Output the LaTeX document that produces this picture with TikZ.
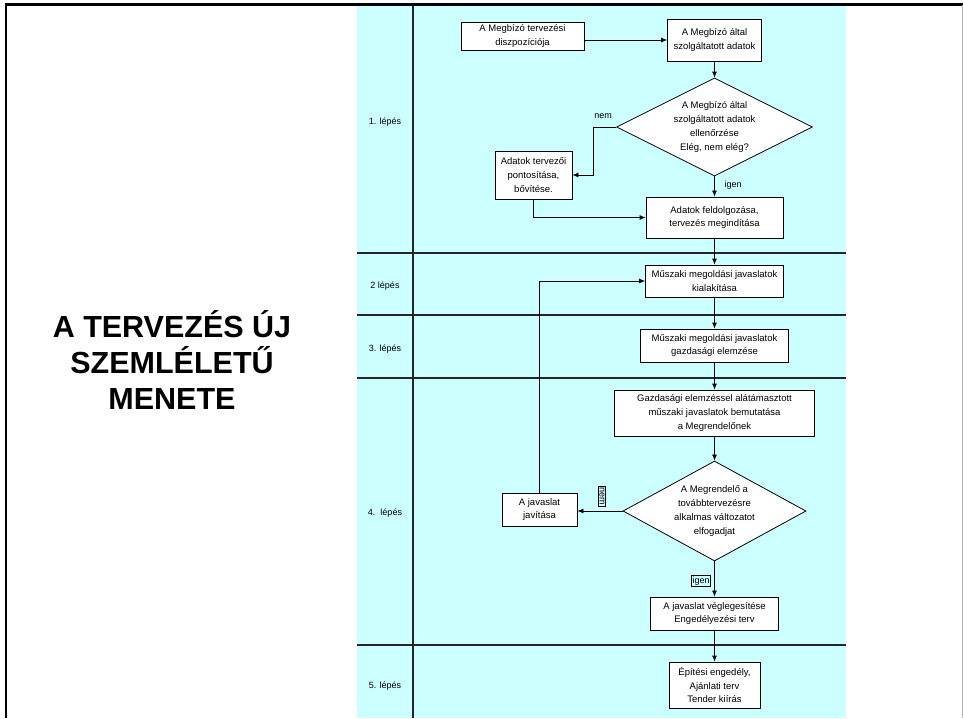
\documentclass[tikz,border=0pt]{standalone}
\usepackage{fontspec}
\setmainfont{Liberation Sans}
\usetikzlibrary{shapes.geometric,arrows.meta}
\definecolor{panelcyan}{HTML}{CCFFFF}
\tikzset{
	box/.style={draw, fill=white, line width=0.8pt, inner sep=0pt, align=center, font=\fontsize{9.5}{13.7}\selectfont},
	decision/.style={diamond, draw, fill=white, line width=0.8pt, inner sep=0pt, aspect=2, align=center, font=\fontsize{9.5}{13.7}\selectfont},
	lane/.style={font=\fontsize{9}{11}\selectfont},
	tag/.style={draw, fill=panelcyan, line width=0.6pt, inner sep=1.2pt, font=\fontsize{9}{11}\selectfont},
	flow/.style={->, line width=0.8pt}
}
\begin{document}
\begin{tikzpicture}[x=1pt, y=-1pt, >={Latex[length=6pt,width=5pt]}]
	\useasboundingbox (0,0) rectangle (963,718);
	% panel and frame
	\fill[panelcyan] (357,6) rectangle (846,718);
	\draw[line width=2.5pt] (6,718) -- (6,4.5) -- (963,4.5);
	\draw[black!30, line width=1pt] (962,5) -- (962,718);
	\draw[black!85, line width=1.2pt] (413,6) -- (413,718);
	\draw[black!85, line width=1.2pt] (357,253) -- (846,253);
	\draw[black!85, line width=1.2pt] (357,315) -- (846,315);
	\draw[black!85, line width=1.2pt] (357,378) -- (846,378);
	\draw[black!85, line width=1.2pt] (357,645) -- (846,645);
	% title
	\node[font=\bfseries\fontsize{30.5}{36}\selectfont, align=center] (title) at (172,360) {A TERVEZÉS ÚJ\\SZEMLÉLETŰ\\MENETE};
	% lanes
	\node[lane] (lep1) at (385,122) {1. lépés};
	\node[lane] (lep2) at (385,286) {2 lépés};
	\node[lane] (lep3) at (385,349) {3. lépés};
	\node[lane] (lep4) at (385,513) {4.\ \ lépés};
	\node[lane] (lep5) at (385,686) {5. lépés};
	% step 1
	\node[box, minimum width=123, minimum height=28] (disp) at (522.5,36) {A Megbízó tervezési\\diszpozíciója};
	\node[box, minimum width=94, minimum height=42] (adat) at (714.5,40) {A Megbízó által\\szolgáltatott adatok};
	\node[decision, minimum width=196, minimum height=98] (ell) at (714.5,127) {A Megbízó által\\szolgáltatott adatok\\ellenőrzése\\Elég, nem elég?};
	\node[box, minimum width=77, minimum height=48] (pont) at (533.5,175) {Adatok tervezői\\pontosítása,\\bővítése.};
	\node[box, minimum width=137, minimum height=41] (feld) at (714.5,217.5) {Adatok feldolgozása,\\tervezés megindítása};
	\node[lane] (nem1) at (603,116) {nem};
	\node[lane] (igen1) at (733,185) {igen};
	% steps 2-3
	\node[box, minimum width=138, minimum height=32] (kial) at (714.5,281) {Műszaki megoldási javaslatok\\kialakítása};
	\node[box, minimum width=148, minimum height=33] (gazd) at (714.5,345.5) {Műszaki megoldási javaslatok\\gazdasági elemzése};
	% step 4
	\node[box, minimum width=200, minimum height=46] (bemut) at (714.5,413) {Gazdasági elemzéssel alátámasztott\\műszaki javaslatok bemutatása\\a Megrendelőnek};
	\node[decision, minimum width=183, minimum height=100] (elfog) at (714.5,511) {A Megrendelő a\\továbbtervezésre\\alkalmas változatot\\elfogadjat};
	\node[box, minimum width=75, minimum height=33] (javit) at (539.5,509.5) {A javaslat\\javítása};
	\node[box, minimum width=128, minimum height=33] (vegl) at (714.5,613.5) {A javaslat véglegesítése\\Engedélyezési terv};
	\node[tag, rotate=-90] (nem2) at (602,496) {nem};
	\node[tag] (igen2) at (701,581) {igen};
	% step 5
	\node[box, minimum width=91, minimum height=46] (enged) at (714.5,685) {Építési engedély,\\Ajánlati terv\\Tender kiírás};
	% connectors
	\draw[flow] (disp.east |- adat.west) -- (adat.west);
	\draw[flow] (adat.south) -- (ell.north);
	\draw[flow] (ell.west) -- ++(-23,0) |- (pont.east);
	\draw[flow] (pont.south) |- (feld.west);
	\draw[flow] (ell.south) -- (feld.north);
	\draw[flow] (feld.south) -- (kial.north);
	\draw[flow] (kial.south) -- (gazd.north);
	\draw[flow] (gazd.south) -- (bemut.north);
	\draw[flow] (bemut.south) -- (elfog.north);
	\draw[flow] (elfog.west) -- (elfog.west -| javit.east);
	\draw[flow] (javit.north) |- (kial.west);
	\draw[flow] (elfog.south) -- (vegl.north);
	\draw[flow] (vegl.south) -- (enged.north);
\end{tikzpicture}
\end{document}
